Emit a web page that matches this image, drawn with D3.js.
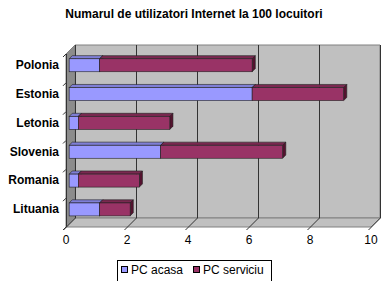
<!DOCTYPE html>
<html>
<head>
<meta charset="utf-8">
<script src="https://cdn.jsdelivr.net/npm/d3@7/dist/d3.min.js"></script>
<style>
  body { margin: 0; background: #fff; }
  text { font-family: "Liberation Sans", Arial, sans-serif; }
</style>
</head>
<body>
<svg id="viz" width="388" height="281"></svg>
<script>
// DATA
var tari = ["Polonia", "Estonia", "Letonia", "Slovenia", "Romania", "Lituania"];
var pcAcasa = [1, 6, 0.3, 3, 0.3, 1];
var pcServiciu = [5, 3, 3, 4, 2, 1];
var xTicks = [0, 2, 4, 6, 8, 10];
var serii = ["PC acasa", "PC serviciu"];
var culori = ["#9999FF", "#993366"];
var culoriSus = ["#7f7fd6", "#7a2850"];
var culoriDreapta = ["#6666b0", "#55122f"];
var titlu = "Numarul de utilizatori Internet la 100 locuitori";

var svg = d3.select("#viz");
var D = 9; // depth of the 3d box
function dp(t) { return [t * D, -t * D]; }

var x = d3.scaleLinear().domain([0, 10]).range([66, 371]);
var y = d3.scaleBand().domain(tari).range([54, 227])
    .paddingInner(0.55).paddingOuter(0.275);
var yTop = 54, yBot = 227;

function poly(pts) { return pts.map(function (p) { return p.join(","); }).join(" "); }

// title
svg.append("text")
    .attr("x", 194).attr("y", 18)
    .attr("text-anchor", "middle")
    .attr("font-size", 12).attr("font-weight", "bold")
    .text(titlu);

// walls
var x0 = x(0), x1 = x(10);
svg.append("polygon") // back wall
    .attr("points", poly([[x0 + D, yTop - D], [x1 + D, yTop - D], [x1 + D, yBot - D], [x0 + D, yBot - D]]))
    .attr("fill", "#c0c0c0").attr("stroke", "#808080").attr("stroke-width", 1);
svg.append("polygon") // floor
    .attr("points", poly([[x0, yBot], [x1, yBot], [x1 + D, yBot - D], [x0 + D, yBot - D]]))
    .attr("fill", "#c0c0c0").attr("stroke", "#808080").attr("stroke-width", 1);
svg.append("polygon") // left wall
    .attr("points", poly([[x0, yTop], [x0 + D, yTop - D], [x0 + D, yBot - D], [x0, yBot]]))
    .attr("fill", "#8c8c8c").attr("stroke", "#808080").attr("stroke-width", 1);

// gridlines (back wall + floor + tick)
var grid = svg.append("g").attr("stroke", "#333").attr("stroke-width", 1).attr("fill", "none");
xTicks.forEach(function (v) {
    var xv = Math.round(x(v)) + 0.5;
    grid.append("polyline")
        .attr("points", poly([[xv + D, yTop - D], [xv + D, yBot - D], [xv, yBot], [xv - 3, yBot + 3]]));
});
// category ticks on left edge
var step = y.step();
d3.range(tari.length + 1).forEach(function (i) {
    var yy = yTop + i * step;
    grid.append("line")
        .attr("x1", x0 - 3).attr("y1", yy + 3).attr("x2", x0).attr("y2", yy);
});
grid.append("line").attr("x1", x0 + 0.5).attr("y1", yTop).attr("x2", x0 + 0.5).attr("y2", yBot);

// x tick labels
svg.append("g").selectAll("text").data(xTicks).enter().append("text")
    .attr("x", function (d) { return x(d); })
    .attr("y", 244)
    .attr("text-anchor", "middle")
    .attr("font-size", 12)
    .text(function (d) { return d; });

// category labels
svg.append("g").selectAll("text").data(tari).enter().append("text")
    .attr("x", 59)
    .attr("y", function (d) { return y(d) + y.bandwidth() / 2 - 3.5; })
    .attr("dy", "0.35em")
    .attr("text-anchor", "end")
    .attr("font-size", 12).attr("font-weight", "bold")
    .text(function (d) { return d; });

// stacked 3d bars
var tf = 0.35, tb = 0.7;
var segs = [];
tari.forEach(function (c, i) {
    segs.push({ c: c, s: 0, a: 0, b: pcAcasa[i] });
    segs.push({ c: c, s: 1, a: pcAcasa[i], b: pcAcasa[i] + pcServiciu[i] });
});
var bars = svg.append("g").selectAll("g").data(segs).enter().append("g");
bars.each(function (d) {
    var g = d3.select(this);
    var f = dp(tf), b = dp(tb);
    var xa = x(d.a), xb = x(d.b), yt = y(d.c), yb = y(d.c) + y.bandwidth();
    g.append("polygon") // top face
        .attr("points", poly([[xa + f[0], yt + f[1]], [xb + f[0], yt + f[1]], [xb + b[0], yt + b[1]], [xa + b[0], yt + b[1]]]))
        .attr("fill", culoriSus[d.s]).attr("stroke", "#222").attr("stroke-width", 0.6);
    g.append("polygon") // right face
        .attr("points", poly([[xb + f[0], yt + f[1]], [xb + b[0], yt + b[1]], [xb + b[0], yb + b[1]], [xb + f[0], yb + f[1]]]))
        .attr("fill", culoriDreapta[d.s]).attr("stroke", "#222").attr("stroke-width", 0.6);
    g.append("rect") // front face
        .attr("x", xa + f[0]).attr("y", yt + f[1])
        .attr("width", xb - xa).attr("height", y.bandwidth())
        .attr("fill", culori[d.s]).attr("stroke", "#222").attr("stroke-width", 0.6);
});

// legend
var leg = svg.append("g");
leg.append("rect").attr("x", 117.5).attr("y", 260.5).attr("width", 154).attr("height", 24)
    .attr("fill", "#fff").attr("stroke", "#000").attr("stroke-width", 1);
var li = leg.selectAll("g").data(serii).enter().append("g")
    .attr("transform", function (d, i) { return "translate(" + (121 + i * 72) + ",0)"; });
li.append("rect").attr("x", 0.5).attr("y", 266.5).attr("width", 6).attr("height", 6)
    .attr("fill", function (d, i) { return culori[i]; })
    .attr("stroke", "#000").attr("stroke-width", 1);
li.append("text").attr("x", 10).attr("y", 274).attr("font-size", 12)
    .text(function (d) { return d; });
</script>
</body>
</html>
